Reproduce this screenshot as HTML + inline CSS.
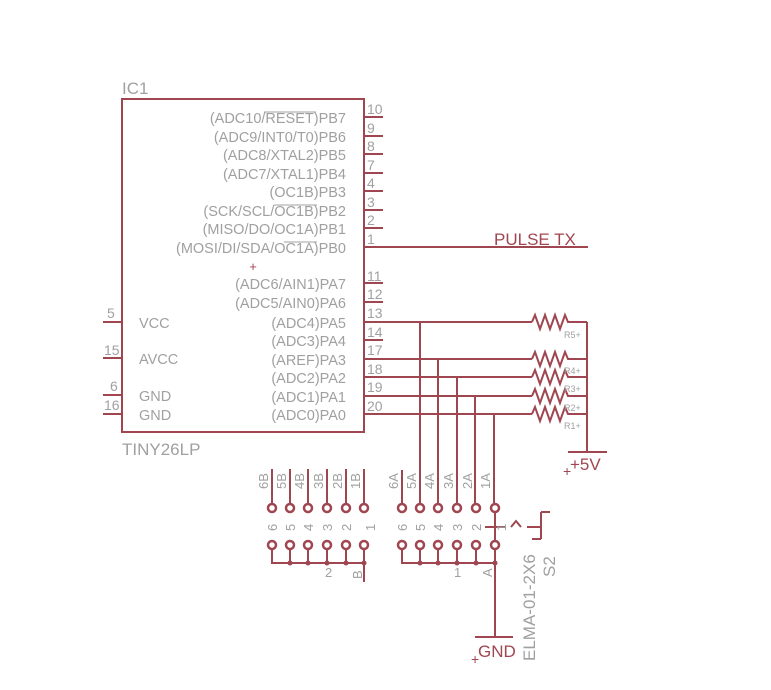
<!DOCTYPE html>
<html><head><meta charset="utf-8"><style>
html,body{margin:0;padding:0;background:#fff;width:771px;height:690px;overflow:hidden}
svg{display:block}
.w{stroke:#a04650;stroke-width:2;fill:none}
.g{fill:#a0a0a0;font-family:"Liberation Sans",sans-serif}
.r{fill:#a04650;font-family:"Liberation Sans",sans-serif}
</style></head><body>
<svg width="771" height="690" viewBox="0 0 771 690" xmlns="http://www.w3.org/2000/svg">
<rect x="122" y="99" width="242" height="333" class="w"/>
<text x="122" y="94" class="g" font-size="17">IC1</text>
<text x="122" y="455" class="g" font-size="17">TINY26LP</text>
<text x="253" y="271" class="r" font-size="13" text-anchor="middle">+</text>
<g class="w">
<path d="M364 117H383M364 136H383M364 154H383M364 173H383M364 191H383M364 210H383M364 228H383M364 247H588"/>
<path d="M364 283H383M364 302H383M364 340H383"/>
<path d="M364 322H532M364 359H532M364 377H532M364 396H532M364 414H532"/>
<path d="M103 322H122M103 358H122M103 395H122M103 414H122"/>
</g>
<g class="g" text-anchor="end" font-size="14.5">
<text x="346" y="123">(ADC10/RESET)PB7</text>
<text x="346" y="142">(ADC9/INT0/T0)PB6</text>
<text x="346" y="160">(ADC8/XTAL2)PB5</text>
<text x="346" y="179">(ADC7/XTAL1)PB4</text>
<text x="346" y="197">(OC1B)PB3</text>
<text x="346" y="216">(SCK/SCL/OC1B)PB2</text>
<text x="346" y="234">(MISO/DO/OC1A)PB1</text>
<text x="346" y="253">(MOSI/DI/SDA/OC1A)PB0</text>
<text x="346" y="289">(ADC6/AIN1)PA7</text>
<text x="346" y="308">(ADC5/AIN0)PA6</text>
<text x="346" y="328">(ADC4)PA5</text>
<text x="346" y="346">(ADC3)PA4</text>
<text x="346" y="365">(AREF)PA3</text>
<text x="346" y="383">(ADC2)PA2</text>
<text x="346" y="402">(ADC1)PA1</text>
<text x="346" y="420">(ADC0)PA0</text>
</g>
<g stroke="#a0a0a0" stroke-width="1"><path d="M264 112H316M274 205H317M284 242H317"/></g>
<g class="g" font-size="14.5">
<text x="139" y="328">VCC</text><text x="139" y="364">AVCC</text>
<text x="139" y="401">GND</text><text x="139" y="420">GND</text>
</g>
<g class="g" font-size="14">
<text x="107" y="318">5</text><text x="104" y="355">15</text>
<text x="110" y="391">6</text><text x="104" y="410">16</text>
<text x="367" y="114">10</text><text x="367" y="133">9</text><text x="367" y="151">8</text><text x="367" y="170">7</text>
<text x="367" y="188">4</text><text x="367" y="207">3</text><text x="367" y="225">2</text><text x="367" y="244">1</text>
<text x="367" y="281">11</text><text x="367" y="299">12</text><text x="367" y="318">13</text><text x="367" y="337">14</text>
<text x="367" y="355">17</text><text x="367" y="374">18</text><text x="367" y="392">19</text><text x="367" y="411">20</text>
</g>
<text x="494" y="245" class="r" font-size="17">PULSE TX</text>
<g class="w">
<path d="M532 322l3 -7 5 14 5 -14 5 14 5 -14 5 14 5 -14 3 7H587"/>
<path d="M532 359l3 -7 5 14 5 -14 5 14 5 -14 5 14 5 -14 3 7H587"/>
<path d="M532 377l3 -7 5 14 5 -14 5 14 5 -14 5 14 5 -14 3 7H587"/>
<path d="M532 396l3 -7 5 14 5 -14 5 14 5 -14 5 14 5 -14 3 7H587"/>
<path d="M532 414l3 -7 5 14 5 -14 5 14 5 -14 5 14 5 -14 3 7H587"/>
<path d="M587 322V452M568 452H607"/>
<path d="M420 322V508M438 359V508M457 377V508M475 396V508M494 414V508"/>
</g>
<g class="g" font-size="9">
<text x="564" y="338">R5+</text><text x="564" y="374">R4+</text><text x="564" y="392">R3+</text><text x="564" y="411">R2+</text><text x="564" y="429">R1+</text>
</g>
<text x="570" y="470" class="r" font-size="17">+5V</text>
<text x="563" y="476" class="r" font-size="14">+</text>
<g class="w">
<path d="M272 469V508M290 469V508M308 469V508M327 469V508M346 469V508M364 469V508M402 470V508"/>
<path d="M272 545V563H364M364 545V582"/>
<path d="M402 545V563H495M495 545V637M475 637H513"/>
<path d="M290 545V563M308 545V563M327 545V563M346 545V563M420 545V563M438 545V563M457 545V563M476 545V563"/>
<path d="M495 512V541"/>
<path d="M485 527H505M511 527L516 521 521 527M527 527H541M541 512V539M541 512H550M532 539H541"/>
</g>
<g fill="#fff" stroke="#a04650" stroke-width="2.5">
<circle cx="272" cy="508" r="4"/><circle cx="290" cy="508" r="4"/><circle cx="308" cy="508" r="4"/><circle cx="327" cy="508" r="4"/><circle cx="346" cy="508" r="4"/><circle cx="364" cy="508" r="4"/>
<circle cx="402" cy="508" r="4"/><circle cx="420" cy="508" r="4"/><circle cx="438" cy="508" r="4"/><circle cx="457" cy="508" r="4"/><circle cx="476" cy="508" r="4"/><circle cx="495" cy="508" r="4"/>
<circle cx="272" cy="545" r="4"/><circle cx="290" cy="545" r="4"/><circle cx="308" cy="545" r="4"/><circle cx="327" cy="545" r="4"/><circle cx="346" cy="545" r="4"/><circle cx="364" cy="545" r="4"/>
<circle cx="402" cy="545" r="4"/><circle cx="420" cy="545" r="4"/><circle cx="438" cy="545" r="4"/><circle cx="457" cy="545" r="4"/><circle cx="476" cy="545" r="4"/><circle cx="495" cy="545" r="4"/>
</g>
<g fill="#a04650">
<circle cx="290" cy="563" r="2.5"/><circle cx="308" cy="563" r="2.5"/><circle cx="327" cy="563" r="2.5"/><circle cx="346" cy="563" r="2.5"/><circle cx="364" cy="563" r="2.5"/>
<circle cx="420" cy="563" r="2.5"/><circle cx="438" cy="563" r="2.5"/><circle cx="457" cy="563" r="2.5"/><circle cx="476" cy="563" r="2.5"/><circle cx="495" cy="563" r="2.5"/>
</g>
<g class="g" font-size="13">
<text transform="translate(268,489) rotate(-90)">6B</text><text transform="translate(286,489) rotate(-90)">5B</text><text transform="translate(304,489) rotate(-90)">4B</text>
<text transform="translate(323,489) rotate(-90)">3B</text><text transform="translate(342,489) rotate(-90)">2B</text><text transform="translate(360,489) rotate(-90)">1B</text>
<text transform="translate(398,489) rotate(-90)">6A</text><text transform="translate(416,489) rotate(-90)">5A</text><text transform="translate(434,489) rotate(-90)">4A</text>
<text transform="translate(453,489) rotate(-90)">3A</text><text transform="translate(472,489) rotate(-90)">2A</text><text transform="translate(490,489) rotate(-90)">1A</text>
<text transform="translate(277,531) rotate(-90)">6</text><text transform="translate(295,531) rotate(-90)">5</text><text transform="translate(313,531) rotate(-90)">4</text>
<text transform="translate(332,531) rotate(-90)">3</text><text transform="translate(351,531) rotate(-90)">2</text><text transform="translate(375,531) rotate(-90)">1</text>
<text transform="translate(407,531) rotate(-90)">6</text><text transform="translate(425,531) rotate(-90)">5</text><text transform="translate(443,531) rotate(-90)">4</text>
<text transform="translate(462,531) rotate(-90)">3</text><text transform="translate(481,531) rotate(-90)">2</text><text transform="translate(506,531) rotate(-90)">1</text>
<text transform="translate(362,579) rotate(-90)">B</text><text transform="translate(492,577) rotate(-90)">A</text>
<text x="325" y="577">2</text><text x="454" y="577">1</text>
</g>
<text transform="translate(535,661) rotate(-90)" class="g" font-size="17">ELMA-01-2X6</text>
<text transform="translate(555,577) rotate(-90)" class="g" font-size="17">S2</text>
<text x="478" y="657" class="r" font-size="17">GND</text>
<text x="471" y="664" class="r" font-size="14">+</text>
</svg>
</body></html>
